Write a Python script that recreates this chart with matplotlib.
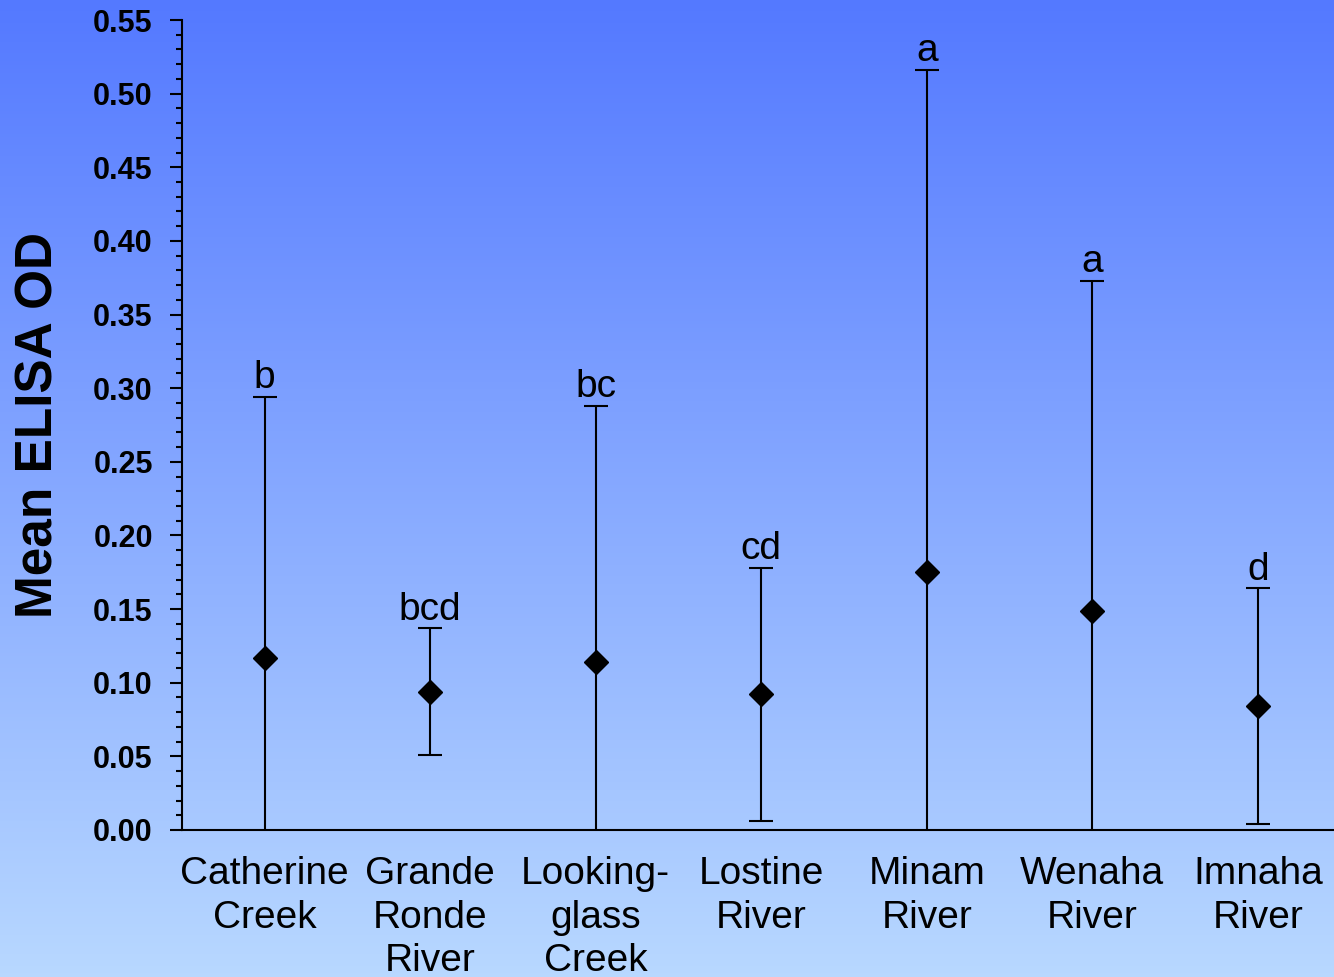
import matplotlib.pyplot as plt
import numpy as np
from matplotlib.ticker import MultipleLocator
from matplotlib.colors import LinearSegmentedColormap

plt.rcParams['font.family'] = ['Liberation Sans', 'DejaVu Sans']

# river sites, mean OD and error (+/-)
sites = ['Catherine\nCreek', 'Grande\nRonde\nRiver', 'Looking-\nglass\nCreek',
         'Lostine\nRiver', 'Minam\nRiver', 'Wenaha\nRiver', 'Imnaha\nRiver']
mean_od = [0.117, 0.094, 0.114, 0.092, 0.175, 0.149, 0.084]
err_od = [0.177, 0.043, 0.174, 0.086, 0.341, 0.224, 0.080]
groups = ['b', 'bcd', 'bc', 'cd', 'a', 'a', 'd']

fig = plt.figure(figsize=(13.34, 9.77), dpi=100)

# blue gradient backdrop
bg = fig.add_axes([0, 0, 1, 1], zorder=-1)
cmap = LinearSegmentedColormap.from_list('bg', ['#5479ff', '#b8d8ff'])
grad = np.linspace(0, 1, 256).reshape(-1, 1)
bg.imshow(grad, aspect='auto', cmap=cmap, extent=[0, 1, 0, 1])
bg.axis('off')

ax = fig.add_axes([0.1364, 0.1505, 0.8636, 0.829])
ax.patch.set_alpha(0)

x = np.arange(len(sites))
ax.errorbar(x, mean_od, yerr=err_od, fmt='D', color='black', ms=12,
            ecolor='black', elinewidth=1.5, capsize=8.5, capthick=1.5,
            clip_on=True)

for xi, m, e, g in zip(x, mean_od, err_od, groups):
    ax.annotate(g, (xi, m + e), xytext=(0, 0.5), textcoords='offset points',
                ha='center', va='bottom', fontsize=28)

ax.set_xlim(-0.5, 6.46)
ax.set_ylim(0, 0.55)
ax.yaxis.set_major_locator(MultipleLocator(0.05))
ax.yaxis.set_minor_locator(MultipleLocator(0.01))
ax.yaxis.set_major_formatter(plt.FormatStrFormatter('%.2f'))
ax.set_xticks(x)
ax.set_xticklabels(sites, fontsize=28, linespacing=1.26)
ax.tick_params(axis='x', length=0, pad=19)
ax.tick_params(axis='y', which='major', length=9, width=1.5, pad=12, labelsize=22)
ax.tick_params(axis='y', which='minor', length=4.5, width=1.5)
for lbl in ax.get_yticklabels():
    lbl.set_fontweight('bold')

for s in ['top', 'right']:
    ax.spines[s].set_visible(False)
for s in ['left', 'bottom']:
    ax.spines[s].set_linewidth(1.5)

ax.set_ylabel('Mean ELISA OD', fontsize=37, fontweight='bold')
ax.yaxis.set_label_coords(-0.103, 0.5)

fig.savefig('out.png', dpi=100)
